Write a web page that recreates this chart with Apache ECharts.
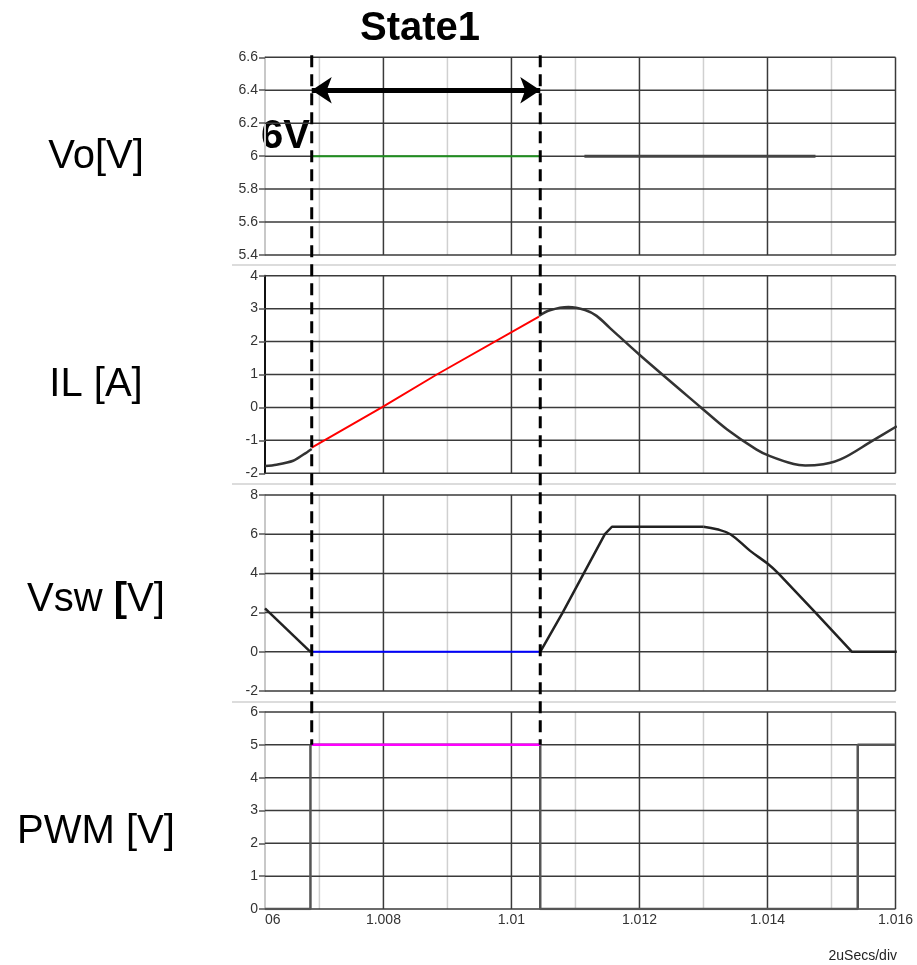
<!DOCTYPE html>
<html>
<head>
<meta charset="utf-8">
<script src="https://cdn.jsdelivr.net/npm/echarts@6.0.0/dist/echarts.min.js"></script>
<style>
  html, body { margin: 0; padding: 0; background: #fff; }
  #main { width: 917px; height: 965px; }
</style>
</head>
<body>
<div id="main"></div>
<script>
// time axis (ms)
const tMin = 1.00615;
const tMax = 1.016;
const majorLines = [1.008, 1.01, 1.012, 1.014, 1.016];
const minorLines = [1.007, 1.009, 1.011, 1.013, 1.015];
const stateStart = 1.00688;
const stateEnd = 1.01045;

// y ticks for each panel
const voTicks = [5.4, 5.6, 5.8, 6, 6.2, 6.4, 6.6];
const ilTicks = [-2, -1, 0, 1, 2, 3, 4];
const vswTicks = [-2, 0, 2, 4, 6, 8];
const pwmTicks = [0, 1, 2, 3, 4, 5, 6];

// Vo
const tVoGreen = [1.00688, 1.01045];
const voGreen = [6, 6];
const tVoBlack = [1.01114, 1.01475];
const voBlack = [6, 6];

// IL
const tIlA = [1.00615, 1.00633, 1.00659, 1.00675, 1.00688];
const ilA = [-1.78, -1.74, -1.62, -1.43, -1.26];
const tIlRed = [1.00688, 1.007975, 1.008834, 1.01043];
const ilRed = [-1.22, 0, 1.0, 2.76];
const tIlB = [1.01043, 1.0106, 1.01089, 1.01115, 1.01133, 1.01154, 1.012, 1.01296, 1.01337, 1.01383, 1.01404, 1.01441, 1.01459, 1.01477, 1.01514, 1.01565, 1.01602];
const ilB = [2.78, 2.95, 3.05, 2.96, 2.78, 2.41, 1.6, 0.0, -0.67, -1.28, -1.48, -1.72, -1.76, -1.75, -1.58, -1.0, -0.57];

// Vsw
const tVswA = [1.00615, 1.00686];
const vswA = [2.22, 0];
const tVswBlue = [1.00688, 1.01045];
const vswBlue = [0, 0];
const tVswRise = [1.01045, 1.0108, 1.01113, 1.01146, 1.01157, 1.013];
const vswRise = [0, 2, 4, 6, 6.38, 6.38];
const tVswBend = [1.013, 1.01321, 1.01342, 1.01373, 1.014, 1.01417];
const vswBend = [6.38, 6.25, 6.0, 5.15, 4.5, 4.0];
const tVswFall = [1.01417, 1.01475, 1.01532, 1.01602];
const vswFall = [4.0, 2.0, 0, 0];

// PWM
const tPwm = [1.00615, 1.00686, 1.00686, 1.01045, 1.01045, 1.01541, 1.01541, 1.016];
const pwm = [0, 0, 5, 5, 0, 0, 5, 5];
const tPwmPink = [1.00688, 1.01045];
const pwmPink = [5, 5];

const yTicks = [voTicks, ilTicks, vswTicks, pwmTicks];
const yIntervals = [0.2, 1, 2, 1];
const rowLabels = ['Vo[V]', 'IL [A]', 'Vsw [V]', 'PWM [V]'];

const FONT = 'Arial, "Liberation Sans", sans-serif';
const gridTops = [57.3, 275.7, 495, 712];
const gridHeights = [197.7, 197.6, 196, 197];
const labelY = [157, 385, 600, 832];

function pairs(ts, vs) {
  return ts.map((t, i) => [t, vs[i]]);
}

function lineSeries(idx, ts, vs, color, width, extra) {
  return Object.assign({
    type: 'line',
    xAxisIndex: idx,
    yAxisIndex: idx,
    data: pairs(ts, vs),
    symbol: 'none',
    lineStyle: { color: color, width: width },
    z: 3
  }, extra || {});
}

// grid lines: kind 0 = minor vertical, 1 = horizontal, 2 = major vertical
function gridSeries(i) {
  const ticks = yTicks[i];
  const yMin = ticks[0], yMax = ticks[ticks.length - 1];
  const data = []
    .concat(minorLines.map(v => [v, 0]))
    .concat(ticks.map(v => [v, 1]))
    .concat(majorLines.map(v => [v, 2]));
  return {
    type: 'custom',
    xAxisIndex: i,
    yAxisIndex: i,
    silent: true,
    z: 1,
    data: data,
    encode: { x: 0, y: 1 },
    renderItem: function (params, api) {
      const v = api.value(0);
      const kind = api.value(1);
      let p1, p2;
      if (kind === 1) {
        p1 = api.coord([tMin, v]);
        p2 = api.coord([tMax, v]);
      } else {
        p1 = api.coord([v, yMin]);
        p2 = api.coord([v, yMax]);
      }
      return {
        type: 'line',
        shape: { x1: p1[0], y1: p1[1], x2: p2[0], y2: p2[1] },
        style: { stroke: kind === 0 ? '#d0d0d0' : '#3a3a3a', lineWidth: 1.5 }
      };
    }
  };
}

const grids = [];
const xAxes = [];
const yAxes = [];
const series = [];

for (let i = 0; i < 4; i++) {
  const ticks = yTicks[i];
  grids.push({ left: 265, width: 630.5, top: gridTops[i], height: gridHeights[i] });
  xAxes.push({
    type: 'value',
    gridIndex: i,
    min: tMin,
    max: tMax,
    splitNumber: 5,
    axisLine: { show: false },
    axisTick: { show: false },
    axisLabel: {
      show: i === 3,
      color: '#333',
      fontSize: 14,
      fontFamily: FONT,
      margin: 4,
      alignMinLabel: 'left',
      formatter: function (v) {
        if (v < 1.0062) return '06';
        return String(parseFloat(v.toFixed(3)));
      }
    },
    splitLine: { show: false }
  });
  yAxes.push({
    type: 'value',
    gridIndex: i,
    min: ticks[0],
    max: ticks[ticks.length - 1],
    interval: yIntervals[i],
    axisLine: { show: true, lineStyle: { color: i === 1 ? '#111' : '#c8c8c8', width: 2 } },
    axisTick: { show: true, length: 6, lineStyle: { color: '#555', width: 1.5 } },
    axisLabel: {
      color: '#333',
      fontSize: 14,
      fontFamily: FONT,
      margin: 7,
      formatter: function (v) { return String(parseFloat(v.toFixed(1))); }
    },
    splitLine: { show: false }
  });
  series.push(gridSeries(i));
}

series.push(lineSeries(0, tVoBlack, voBlack, '#444', 3));
series.push(lineSeries(0, tVoGreen, voGreen, '#1f8f1f', 2, {
  markLine: {
    silent: true,
    symbol: ['arrow', 'arrow'],
    symbolSize: [20, 20],
    label: { show: false },
    lineStyle: { color: '#000', width: 5, type: 'solid' },
    emphasis: { disabled: true },
    data: [[{ coord: [stateStart, 6.4] }, { coord: [stateEnd, 6.4] }]]
  }
}));

series.push(lineSeries(1, tIlA, ilA, '#333', 2.5, { smooth: 0.3 }));
series.push(lineSeries(1, tIlB, ilB, '#333', 2.5, { smooth: 0.35 }));
series.push(lineSeries(1, tIlRed, ilRed, '#ff0000', 2));

series.push(lineSeries(2, tVswA, vswA, '#222', 2.5));
series.push(lineSeries(2, tVswRise, vswRise, '#222', 2.5));
series.push(lineSeries(2, tVswBend, vswBend, '#222', 2.5, { smooth: 0.4 }));
series.push(lineSeries(2, tVswFall, vswFall, '#222', 2.5));
series.push(lineSeries(2, tVswBlue, vswBlue, '#0000ff', 2));

series.push(lineSeries(3, tPwm, pwm, '#555', 2.5));
series.push(lineSeries(3, tPwmPink, pwmPink, '#ff00ff', 2.5));

const graphics = [];
// light separators between panels
[265, 484, 702].forEach((y, i) => {
  graphics.push({
    type: 'line', id: 'sep' + i, silent: true,
    shape: { x1: 232, y1: y, x2: 896, y2: y },
    style: { stroke: '#dcdcdc', lineWidth: 2 }
  });
});
rowLabels.forEach((txt, i) => {
  const isVsw = i === 2;
  graphics.push({
    type: 'text', id: 'row' + i, silent: true,
    x: 96, y: labelY[i],
    style: {
      text: isVsw ? '{n|Vsw }{b|[}{n|V]}' : txt,
      font: '40px ' + FONT,
      fill: '#000',
      textAlign: 'center',
      textVerticalAlign: 'middle',
      rich: isVsw ? {
        n: { font: '40px ' + FONT, fill: '#000' },
        b: { font: 'bold 40px ' + FONT, fill: '#000' }
      } : undefined
    }
  });
});
graphics.push({
  type: 'text', id: 'title', silent: true,
  x: 420, y: 29,
  style: { text: 'State1', font: 'bold 40px ' + FONT, fill: '#000', textAlign: 'center', textVerticalAlign: 'middle' }
});
graphics.push({
  type: 'text', id: 'v6', silent: true,
  x: 261, y: 137,
  style: { text: '6V', font: 'bold 40px ' + FONT, fill: '#000', textAlign: 'left', textVerticalAlign: 'middle' }
});
graphics.push({
  type: 'text', id: 'div', silent: true,
  x: 897, y: 956,
  style: { text: '2uSecs/div', font: '14px ' + FONT, fill: '#222', textAlign: 'right', textVerticalAlign: 'middle' }
});

const chart = echarts.init(document.getElementById('main'), null, { renderer: 'canvas' });
chart.setOption({
  animation: false,
  backgroundColor: '#fff',
  grid: grids,
  xAxis: xAxes,
  yAxis: yAxes,
  series: series,
  graphic: graphics
});

// dashed state boundaries spanning the panels
const dashTop = chart.convertToPixel({ gridIndex: 0 }, [stateStart, voTicks[voTicks.length - 1]])[1] - 2;
const dashBottom = chart.convertToPixel({ gridIndex: 3 }, [stateStart, 5])[1];
const dashes = [stateStart, stateEnd].map((t, i) => {
  const px = chart.convertToPixel({ gridIndex: 0 }, [t, 6])[0];
  return {
    type: 'line', id: 'dash' + i, silent: true, z: 100,
    shape: { x1: px, y1: dashTop, x2: px, y2: dashBottom },
    style: { stroke: '#000', lineWidth: 3, lineDash: [12, 7] }
  };
});
chart.setOption({ graphic: dashes });
</script>
</body>
</html>
